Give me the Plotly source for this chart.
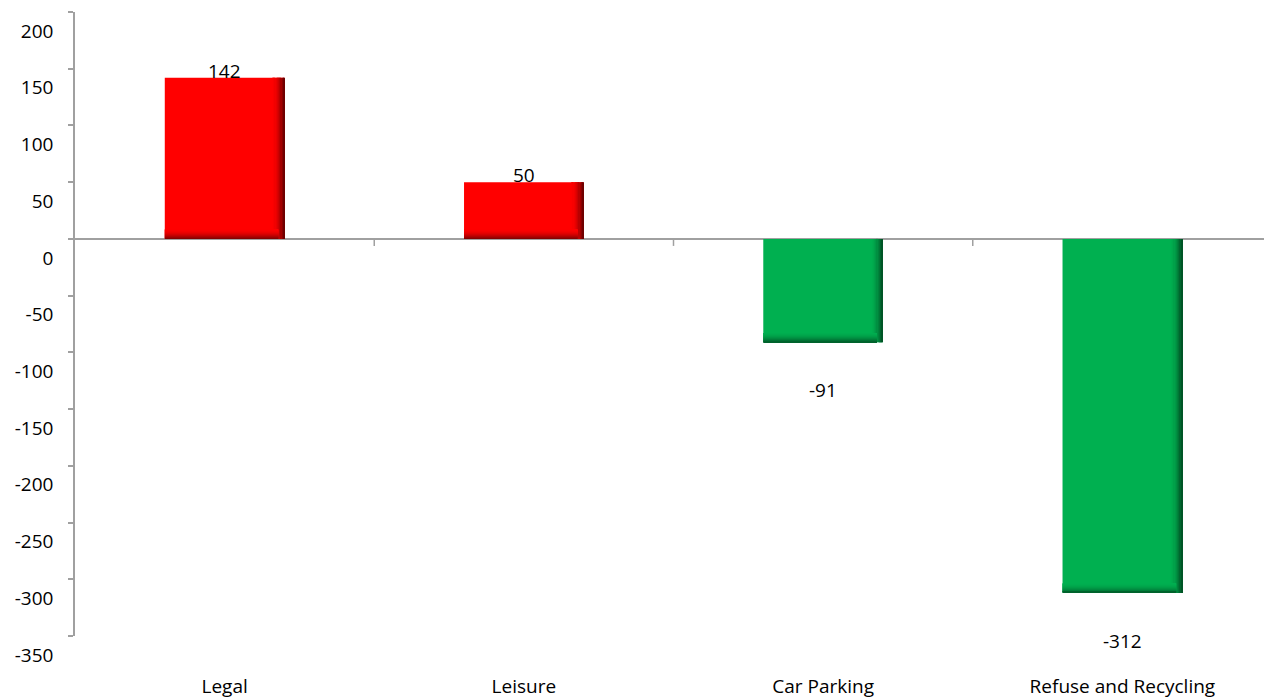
import plotly.graph_objects as go

categories = ["Legal", "Leisure", "Car Parking", "Refuse and Recycling"]
values = [142, 50, -91, -312]
bar_colors = ["#FF0000", "#FF0000", "#00B050", "#00B050"]
edge_colors = ["#700000", "#700000", "#005526", "#005526"]
y_ticks = [200, 150, 100, 50, 0, -50, -100, -150, -200, -250, -300, -350]

FONT = "Open Sans"
BAR_W = 0.4
N_STRIPS = 10
PAGE_OFF = 8  # margem do body da pagina html


def mix(c1, c2, t):
    a = [int(c1[i:i + 2], 16) for i in (1, 3, 5)]
    b = [int(c2[i:i + 2], 16) for i in (1, 3, 5)]
    return "rgb(%d,%d,%d)" % tuple(round(a[k] + (b[k] - a[k]) * t) for k in range(3))


x_idx = list(range(len(categories)))
fig = go.Figure()

# barras principais
fig.add_trace(go.Bar(
    x=x_idx, y=values, width=BAR_W,
    marker=dict(color=bar_colors, line=dict(width=0)),
    hoverinfo="skip",
))

# sombra na borda direita (degrade)
edge_w = 0.04
strip_w = edge_w / N_STRIPS
for k in range(N_STRIPS):
    t = (k + 1) / N_STRIPS
    fig.add_trace(go.Bar(
        x=x_idx, y=values, width=strip_w,
        offset=BAR_W / 2 - edge_w + k * strip_w,
        marker=dict(color=[mix(c, e, t ** 2) for c, e in zip(bar_colors, edge_colors)],
                    line=dict(width=0)),
        hoverinfo="skip",
    ))

# sombra na borda de baixo (degrade)
shade_h = 8.0
step = shade_h / N_STRIPS
for k in range(N_STRIPS):
    t = (k + 1) / N_STRIPS
    bases = [(0 if v > 0 else v) + shade_h - (k + 1) * step for v in values]
    fig.add_trace(go.Bar(
        x=x_idx, y=[step] * len(values), base=bases, width=BAR_W - edge_w * 0.5,
        offset=-BAR_W / 2,
        marker=dict(color=[mix(c, e, t ** 2 * 0.85) for c, e in zip(bar_colors, edge_colors)],
                    line=dict(width=0)),
        hoverinfo="skip",
    ))

# rotulos de dados
for i, v in enumerate(values):
    fig.add_annotation(
        x=i, y=v, text=str(v), showarrow=False,
        yanchor="middle", yshift=7 if v > 0 else -48,
        font=dict(family=FONT, size=19, color="black"),
    )

# marcas de divisao no eixo zero
for b in [i + 0.5 for i in x_idx]:
    fig.add_shape(type="line", xref="x", yref="y", x0=b, x1=b,
                  ysizemode="pixel", yanchor=0, y0=0, y1=-7,
                  line=dict(color="#A0A0A0", width=1.5))

fig.update_layout(
    width=1272 - PAGE_OFF, height=698 - PAGE_OFF,
    margin=dict(l=75 - PAGE_OFF, r=0, t=12 - PAGE_OFF, b=62),
    plot_bgcolor="white", paper_bgcolor="white",
    showlegend=False, barmode="overlay",
    font=dict(family=FONT, size=19, color="black"),
)
fig.update_xaxes(
    tickvals=x_idx, ticktext=categories, range=[-0.5, 3.5],
    showgrid=False, showline=False, zeroline=False, ticks="",
    ticklabelstandoff=37, automargin=False,
    tickfont=dict(family=FONT, size=19, color="black"),
)
fig.update_yaxes(
    range=[-350, 200], tickvals=y_ticks, ticktext=[str(t) for t in y_ticks],
    showgrid=False, showline=True, linecolor="#A0A0A0", linewidth=1.5,
    ticks="outside", ticklen=5, tickcolor="#A0A0A0", tickwidth=1.5,
    zeroline=True, zerolinecolor="#A0A0A0", zerolinewidth=1.5,
    ticklabelshift=19, ticklabelstandoff=11, automargin=False,
    tickfont=dict(family=FONT, size=19, color="black"),
)

fig.write_html("out.html")
